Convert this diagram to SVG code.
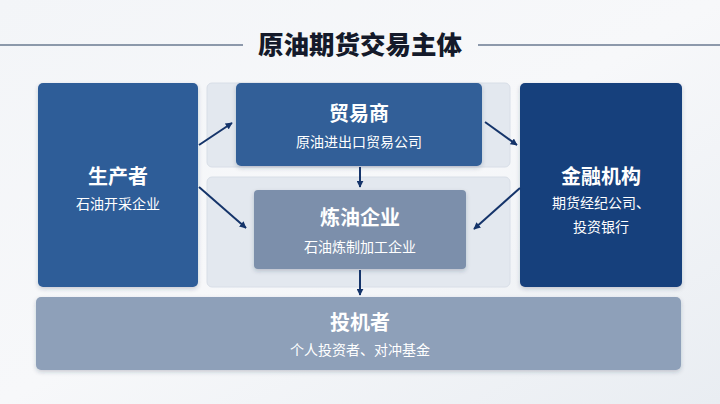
<svg xmlns="http://www.w3.org/2000/svg" width="720" height="404" viewBox="0 0 720 404">
<defs>
<linearGradient id="bg" x1="0" y1="0" x2="1" y2="1">
<stop offset="0" stop-color="#f3f5f8"/>
<stop offset="0.5" stop-color="#f7f8fa"/>
<stop offset="1" stop-color="#e9edf2"/>
</linearGradient>
<filter id="sh" x="-10%" y="-10%" width="120%" height="125%">
<feDropShadow dx="0" dy="2" stdDeviation="2" flood-color="#1b2d4a" flood-opacity="0.22"/>
</filter>
<marker id="ah" viewBox="0 0 10 10" refX="9" refY="5" markerWidth="7" markerHeight="7" markerUnits="userSpaceOnUse" orient="auto">
<path d="M0,0 L10,5 L0,10 z" fill="#15346a"/>
</marker>
</defs>
<style>
.t{font-family:"Noto Sans CJK SC","Noto Sans",sans-serif;fill:#fff;text-anchor:middle}
.h{font-size:20px;font-weight:700}
.s{font-size:14px;font-weight:400}
.panel{fill:#e3e8ef;stroke:#d8dee7;stroke-width:1}
.conn{stroke:#15346a;stroke-width:2;fill:none;marker-end:url(#ah)}
</style>
<rect width="720" height="404" fill="url(#bg)"/>
<g id="title">
<line x1="0" y1="45" x2="243" y2="45" stroke="#6a7a90" stroke-width="1.5"/>
<line x1="478" y1="45" x2="720" y2="45" stroke="#6a7a90" stroke-width="1.5"/>
<text x="360" y="54" font-family="&quot;Noto Sans CJK SC&quot;,sans-serif" font-size="25.5" font-weight="900" fill="#141a2a" text-anchor="middle">原油期货交易主体</text>
</g>
<g id="panels">
<rect class="panel" x="207" y="83" width="303" height="84" rx="5"/>
<rect class="panel" x="207" y="177" width="303" height="110" rx="5"/>
</g>
<g id="producer">
<rect x="38" y="83" width="160" height="204" rx="5" fill="#2f5d98" filter="url(#sh)"/>
<text class="t h" x="118" y="184">生产者</text>
<text class="t s" x="118" y="209">石油开采企业</text>
</g>
<g id="trader">
<rect x="236" y="83" width="246" height="83" rx="5" fill="#325f98" filter="url(#sh)"/>
<text class="t h" x="359" y="121">贸易商</text>
<text class="t s" x="359" y="147">原油进出口贸易公司</text>
</g>
<g id="refinery">
<rect x="254" y="190" width="212" height="79" rx="4" fill="#7c8fab" filter="url(#sh)"/>
<text class="t h" x="360" y="225">炼油企业</text>
<text class="t s" x="360" y="252">石油炼制加工企业</text>
</g>
<g id="finance">
<rect x="520" y="83" width="162" height="204" rx="5" fill="#173f7b" filter="url(#sh)"/>
<text class="t h" x="601" y="184">金融机构</text>
<text class="t s" x="601" y="208">期货经纪公司、</text>
<text class="t s" x="601" y="232">投资银行</text>
</g>
<g id="investor">
<rect x="36" y="297" width="645" height="73" rx="5" fill="#8ea0b9" filter="url(#sh)"/>
<text class="t h" x="360" y="330">投机者</text>
<text class="t s" x="360" y="355">个人投资者、对冲基金</text>
</g>
<g id="connectors">
<line class="conn" x1="199" y1="145" x2="232" y2="123"/>
<line class="conn" x1="199" y1="187" x2="246" y2="228"/>
<line class="conn" x1="485" y1="122" x2="517" y2="145"/>
<line class="conn" x1="520" y1="188" x2="474" y2="229"/>
<line class="conn" x1="360" y1="167" x2="360" y2="187"/>
<line class="conn" x1="360" y1="270" x2="360" y2="295"/>
</g>
</svg>
